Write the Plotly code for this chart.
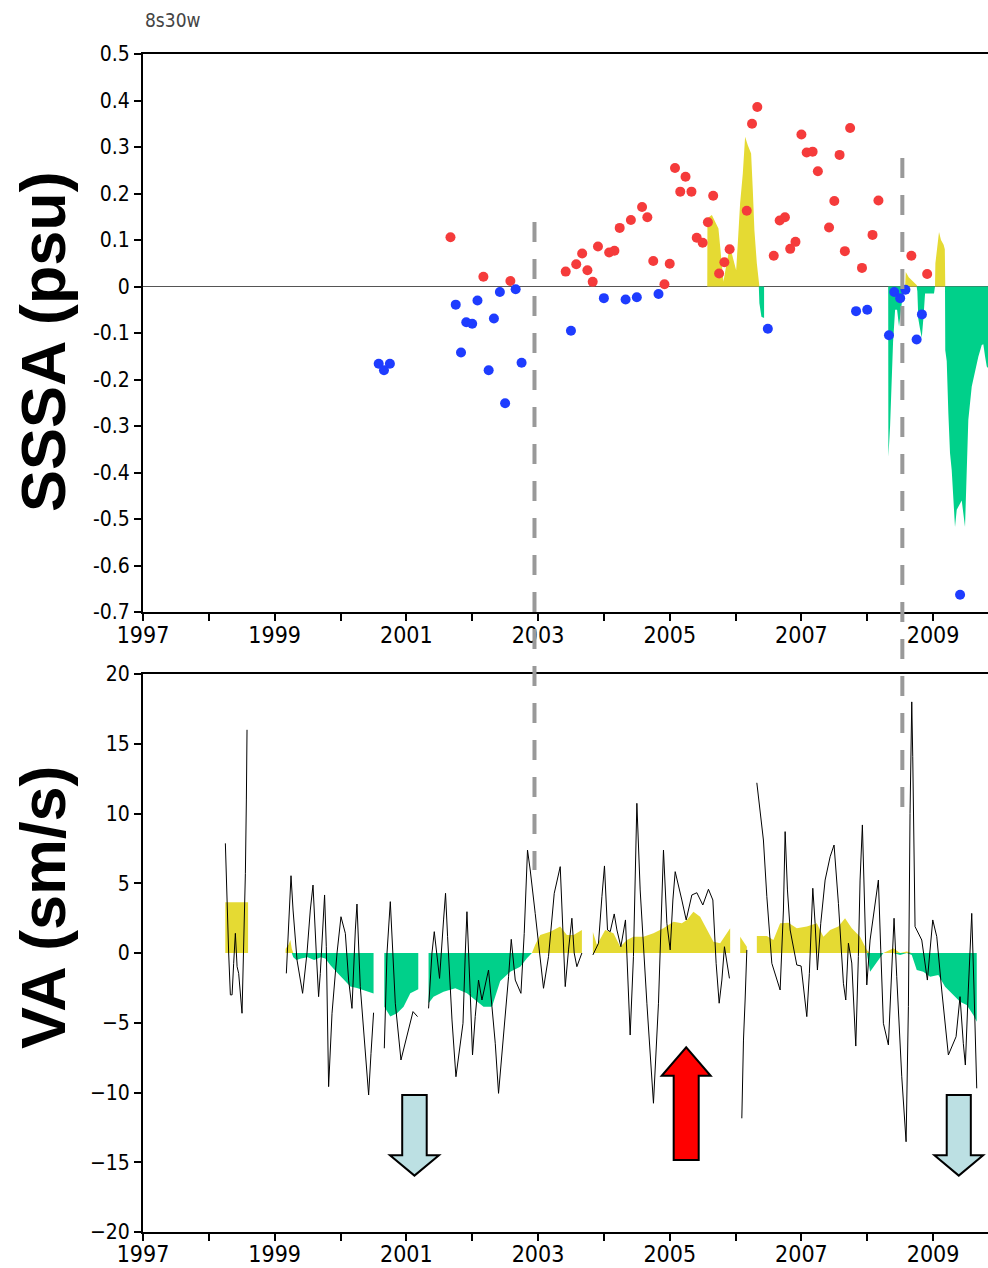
import plotly.graph_objects as go

# ---------------- data ----------------
# Top panel: SSS anomaly points (psu)
sss_year = [2000.58, 2000.66, 2000.75, 2001.67, 2001.75, 2001.83, 2001.91, 2002.00, 2002.08, 2002.17,
            2002.25, 2002.33, 2002.42, 2002.50, 2002.58, 2002.66, 2002.75, 2003.42, 2003.50, 2003.58,
            2003.67, 2003.75, 2003.83, 2003.91, 2004.00, 2004.08, 2004.16, 2004.24, 2004.33, 2004.41,
            2004.50, 2004.58, 2004.66, 2004.75, 2004.83, 2004.92, 2005.00, 2005.08, 2005.16, 2005.24,
            2005.33, 2005.41, 2005.50, 2005.58, 2005.66, 2005.75, 2005.83, 2005.91, 2006.17, 2006.25,
            2006.33, 2006.49, 2006.58, 2006.67, 2006.75, 2006.83, 2006.91, 2007.00, 2007.08, 2007.17,
            2007.25, 2007.42, 2007.50, 2007.58, 2007.66, 2007.74, 2007.83, 2007.92, 2008.00, 2008.08,
            2008.17, 2008.33, 2008.41, 2008.50, 2008.58, 2008.67, 2008.75, 2008.83, 2008.91, 2009.41]
sss_val = [-0.166, -0.180, -0.166, 0.106, -0.039, -0.142, -0.077, -0.080, -0.030, 0.021,
           -0.180, -0.069, -0.012, -0.251, 0.012, -0.006, -0.164, 0.032, -0.095, 0.048,
           0.071, 0.035, 0.010, 0.086, -0.025, 0.073, 0.077, 0.126, -0.028, 0.143,
           -0.023, 0.171, 0.149, 0.055, -0.016, 0.005, 0.049, 0.255, 0.204, 0.236,
           0.204, 0.105, 0.094, 0.138, 0.195, 0.028, 0.052, 0.080, 0.163, 0.350,
           0.386, -0.091, 0.066, 0.142, 0.149, 0.081, 0.096, 0.327, 0.288, 0.290,
           0.248, 0.127, 0.184, 0.283, 0.076, 0.341, -0.053, 0.040, -0.050, 0.111,
           0.185, -0.105, -0.012, -0.025, -0.007, 0.066, -0.114, -0.060, 0.027, -0.663]

# Top panel: shaded SSS anomaly series (psu); None = gap
ssa_year = [2005.570, 2005.573, 2005.640, 2005.690, 2005.740, 2005.766, 2005.792, 2005.816, 2005.842,
            2005.892, 2005.943, 2005.978, 2006.009, 2006.034, 2006.069, 2006.110, 2006.145, 2006.186,
            2006.236, 2006.262, 2006.286, 2006.323, 2006.353, 2006.362, 2006.393, 2006.423, 2006.433,
            2006.434,
            2008.318, 2008.321, 2008.347, 2008.370, 2008.392, 2008.423, 2008.453, 2008.483, 2008.529,
            2008.575, 2008.585, 2008.630, 2008.750, 2008.761, 2008.776, 2008.800, 2008.828, 2008.852,
            2008.878, 2008.923, 2009.014, 2009.029, 2009.035, 2009.070, 2009.090, 2009.120, 2009.160,
            2009.178, 2009.181, 2009.185, 2009.207, 2009.232, 2009.257, 2009.283, 2009.308, 2009.333,
            2009.359, 2009.394, 2009.435, 2009.485, 2009.511, 2009.535, 2009.587, 2009.637, 2009.687,
            2009.739, 2009.763, 2009.789, 2009.815, 2009.834]
ssa_val = [0.0, 0.147, 0.154, 0.139, 0.125, 0.086, 0.046, 0.010, 0.032,
           0.071, 0.071, 0.050, 0.035, 0.093, 0.179, 0.243, 0.322, 0.304,
           0.286, 0.207, 0.121, 0.050, 0.003, -0.036, -0.065, -0.067, -0.067,
           None,
           0.0, -0.366, -0.300, -0.200, -0.120, -0.050, -0.050, -0.086, -0.030,
           0.0, 0.031, 0.020, 0.003, -0.010, -0.070, -0.090, -0.110, -0.070,
           -0.015, -0.015, -0.015, 0.0, 0.050, 0.090, 0.117, 0.100, 0.090,
           0.080, 0.0, -0.137, -0.160, -0.273, -0.358, -0.395, -0.459, -0.517,
           -0.480, -0.470, -0.460, -0.517, -0.388, -0.287, -0.215, -0.180, -0.151,
           -0.126, -0.124, -0.150, -0.172, -0.175]

# Bottom panel: smoothed VA (sm/s); None = gap
vas_year = [1998.25, 1998.251, 1998.596, 1998.597,
            1999.166, 1999.21, 1999.238, 1999.26, 1999.283, 1999.33, 1999.40, 1999.50, 1999.60, 1999.70,
            1999.769, 1999.85, 1999.947, 2000.05, 2000.149, 2000.25, 2000.351, 2000.45, 2000.502, 2000.503,
            2000.665, 2000.756, 2000.858, 2000.958, 2001.06, 2001.181, 2001.182,
            2001.337, 2001.413, 2001.565, 2001.743, 2001.92, 2002.072, 2002.172, 2002.30, 2002.426,
            2002.578, 2002.73, 2002.831, 2002.907, 2002.957, 2003.033, 2003.185, 2003.337, 2003.438,
            2003.539, 2003.666, 2003.667,
            2003.833, 2003.894, 2004.02, 2004.146, 2004.248, 2004.35, 2004.45, 2004.601, 2004.753,
            2004.905, 2005.057, 2005.184, 2005.26, 2005.36, 2005.462, 2005.564, 2005.664, 2005.766,
            2005.918, 2005.919,
            2006.07, 2006.171, 2006.172,
            2006.323, 2006.475, 2006.575, 2006.677, 2006.803, 2006.93, 2007.082, 2007.234, 2007.334,
            2007.436, 2007.562, 2007.663, 2007.765, 2007.891, 2007.993, 2008.043, 2008.145, 2008.245,
            2008.397, 2008.499, 2008.60, 2008.676, 2008.752, 2008.852, 2008.954, 2009.08, 2009.182,
            2009.308, 2009.41, 2009.511, 2009.611, 2009.663]
vas_val = [3.63, 3.63, 3.63, None,
           0.3, 0.6, 0.93, 0.3, -0.3, -0.5, -0.4, -0.3, -0.5, -0.3,
           -0.4, -0.9, -1.4, -1.9, -2.4, -2.5, -2.65, -2.8, -2.9, None,
           -3.85, -4.56, -4.32, -3.85, -2.89, -2.6, None,
           -3.6, -3.13, -2.77, -2.53, -2.89, -3.49, -3.85, -3.85, -2.0,
           -1.34, -0.98, -0.38, 0.0, 0.6, 1.29, 1.53, 1.9, 1.29,
           1.29, 1.65, None,
           1.5, 0.57, 1.65, 1.41, 0.45, 0.93, 1.17, 1.17, 1.41,
           1.77, 2.24, 2.13, 2.37, 2.96, 2.6, 1.65, 0.81, 0.7,
           1.77, None,
           1.17, 0.45, None,
           1.22, 1.22, 0.93, 2.13, 2.17, 1.77, 1.9, 2.13, 1.17,
           1.65, 1.9, 2.49, 1.77, 1.17, 0.22, -1.34, -0.62, 0.0,
           0.34, -0.14, 0.1, -0.14, -1.22, -1.34, -1.7, -1.58, -2.42,
           -3.0, -3.5, -3.73, -4.44, -4.92]

# Bottom panel: raw VA (sm/s); None = gap
va_year = [1998.251, 1998.266, 1998.301, 1998.327, 1998.353, 1998.377, 1998.403, 1998.429, 1998.453,
           1998.504, 1998.529, 1998.555, 1998.570, 1998.580, 1998.581,
           1999.177, 1999.212, 1999.248, 1999.279, 1999.339, 1999.424, 1999.491, 1999.541, 1999.582,
           1999.632, 1999.667, 1999.693, 1999.758, 1999.784, 1999.819, 1999.871, 1999.947, 2000.007,
           2000.073, 2000.123, 2000.174, 2000.225, 2000.250, 2000.300, 2000.361, 2000.427, 2000.463,
           2000.502, 2000.503,
           2000.665, 2000.706, 2000.756, 2000.782, 2000.832, 2000.918, 2001.009, 2001.101, 2001.170,
           2001.171,
           2001.337, 2001.389, 2001.424, 2001.465, 2001.504, 2001.565, 2001.595, 2001.626, 2001.693,
           2001.753, 2001.819, 2001.860, 2001.895, 2001.920, 2001.970, 2002.005, 2002.046, 2002.096,
           2002.148, 2002.198, 2002.248, 2002.300, 2002.350, 2002.400, 2002.502, 2002.552, 2002.593,
           2002.654, 2002.740, 2002.790, 2002.840, 2002.881, 2002.957, 2003.022, 2003.083, 2003.159,
           2003.246, 2003.337, 2003.378, 2003.413, 2003.463, 2003.514, 2003.549, 2003.590, 2003.666,
           2003.667,
           2003.833, 2003.918, 2003.970, 2004.009, 2004.055, 2004.096, 2004.157, 2004.198, 2004.258,
           2004.328, 2004.399, 2004.449, 2004.501, 2004.551, 2004.653, 2004.753, 2004.829, 2004.905,
           2004.957, 2005.007, 2005.048, 2005.083, 2005.184, 2005.250, 2005.336, 2005.412, 2005.503,
           2005.588, 2005.655, 2005.705, 2005.751, 2005.792, 2005.831, 2005.868, 2005.907, 2005.908,
           2006.095, 2006.120, 2006.145, 2006.171, 2006.172,
           2006.323, 2006.423, 2006.475, 2006.551, 2006.677, 2006.727, 2006.753, 2006.788, 2006.829,
           2006.930, 2006.995, 2007.082, 2007.121, 2007.173, 2007.208, 2007.243, 2007.294, 2007.360,
           2007.436, 2007.496, 2007.562, 2007.638, 2007.674, 2007.714, 2007.765, 2007.826, 2007.865,
           2007.891, 2007.926, 2007.956, 2007.993, 2008.043, 2008.093, 2008.169, 2008.205, 2008.245,
           2008.321, 2008.407, 2008.448, 2008.524, 2008.590, 2008.625, 2008.650, 2008.676, 2008.691,
           2008.726, 2008.828, 2008.913, 2008.995, 2009.056, 2009.131, 2009.232, 2009.349, 2009.409,
           2009.459, 2009.490, 2009.535, 2009.587, 2009.622, 2009.663]
va_val = [7.86, 5.11, 0.0, -3.0, -3.0, -0.74, 1.41, -0.98, -1.46,
          -4.32, 0.22, 5.71, 10.97, 16.0, None,
          -1.46, 1.89, 5.54, 3.08, -0.5, -2.89, 0.0, 3.08, 4.87,
          0.0, -3.13, -1.46, 4.16, 0.45, -9.58, -4.32, 0.0, 2.6,
          1.41, -1.94, -3.97, 1.65, 3.51, -2.41, -6.0, -10.18, -7.19,
          -4.28, None,
          -6.83, 0.0, 3.68, 1.17, -3.6, -7.67, -6.0, -4.2, -4.56,
          None,
          -3.97, 0.0, 1.53, 0.0, -1.82, 2.37, 4.28, 1.17, -4.8,
          -8.87, -6.72, -5.04, 0.0, 2.96, -2.89, -7.31, -4.56, -1.94,
          -3.37, -2.4, -1.22, -3.85, -6.47, -10.06, -4.56, -1.7, 0.98,
          -1.94, -2.89, 1.41, 7.38, 5.95, 2.84, 0.22, -2.53, -0.26,
          4.28, 6.19, 2.13, -2.41, 0.22, 2.49, 0.0, -0.98, 0.0,
          None,
          -0.14, 0.7, 4.04, 6.24, 1.65, 1.53, 2.8, 1.65, 0.45,
          2.37, -5.88, -0.26, 10.73, 4.52, -3.6, -10.77, -3.6, 7.38,
          2.13, 0.22, 3.8, 5.83, 3.8, 2.37, 4.16, 4.32, 3.44,
          4.57, 3.8, -0.74, -3.6, -1.94, 0.45, -0.74, -1.82, None,
          -11.85, -6.24, -3.37, 0.22, None,
          12.2, 8.1, 4.04, -0.74, -2.65, 3.08, 8.7, 4.52, 1.65,
          -0.86, -0.93, -4.56, -1.46, 4.64, 2.13, -1.22, 2.13, 5.23,
          6.9, 7.74, 3.56, -2.17, -3.37, 0.7, -0.72, -6.67, -0.26,
          5.23, 9.18, 3.08, -2.29, 0.93, 2.6, 5.23, 0.22, -5.04,
          -6.59, 2.49, -1.7, -8.87, -13.53, -3.85, 10.0, 18.0, 14.07,
          1.89, 0.93, -1.94, 2.37, 1.17, -2.65, -7.31, -6.0, -3.13,
          -6.47, -8.03, -2.65, 2.84, -2.65, -9.7]

# Axis ticks
year_ticks = list(range(1997, 2010))
year_labels = [str(y) if y % 2 == 1 else "" for y in year_ticks]
sss_ticks = [0.5, 0.4, 0.3, 0.2, 0.1, 0.0, -0.1, -0.2, -0.3, -0.4, -0.5, -0.6, -0.7]
sss_labels = ["0.5", "0.4", "0.3", "0.2", "0.1", "0", "-0.1", "-0.2", "-0.3", "-0.4", "-0.5", "-0.6", "-0.7"]
va_ticks = [20, 15, 10, 5, 0, -5, -10, -15, -20]
va_labels = ["20", "15", "10", "5", "0", "\u22125", "\u221210", "\u221215", "\u221220"]

# Event markers (vertical dashed lines) in years
event_years = [2002.946, 2008.533]

# ---------------- styling / geometry ----------------
YELLOW = "#E5DA33"
GREEN = "#00D08A"
RED_PT = "#F53B3B"
BLUE_PT = "#1E3CFF"
TICKFONT = "DejaVu Sans Condensed, Liberation Sans Narrow, sans-serif"

# page body margin is removed in the written page, so the figure fills the window
W, H = 988, 1268
ML, MR, MT, MB = 143, 0, 54, 36
plot_h = H - MT - MB
plot_w = W - ML - MR


def py2paper(py):
    return (H - MB - py) / plot_h


def px2paper(px):
    return (px - ML) / plot_w


top_dom = [py2paper(612), py2paper(54)]
bot_dom = [py2paper(1232), py2paper(674)]
xmax = 2009.834

fig = go.Figure()


def segments(xs, ys):
    seg_x, seg_y, out = [], [], []
    for x, y in zip(xs, ys):
        if y is None:
            if seg_x:
                out.append((seg_x, seg_y))
            seg_x, seg_y = [], []
        else:
            seg_x.append(x)
            seg_y.append(y)
    if seg_x:
        out.append((seg_x, seg_y))
    return out


def add_shaded(xs, ys, xa, ya):
    for sx, sy in segments(xs, ys):
        for col, fn in ((YELLOW, lambda v: max(v, 0.0)), (GREEN, lambda v: min(v, 0.0))):
            fig.add_trace(go.Scatter(x=sx, y=[fn(v) for v in sy], mode="lines",
                                     line=dict(width=0, color=col), fill="tozeroy", fillcolor=col,
                                     xaxis=xa, yaxis=ya, hoverinfo="skip", showlegend=False))


# top shaded series
add_shaded(ssa_year, ssa_val, "x", "y")
# top points
pt_colors = [RED_PT if v >= 0 else BLUE_PT for v in sss_val]
fig.add_trace(go.Scatter(x=sss_year, y=sss_val, mode="markers",
                         marker=dict(size=10, color=pt_colors, line=dict(width=0)),
                         xaxis="x", yaxis="y", showlegend=False))

# bottom shaded series
add_shaded(vas_year, vas_val, "x2", "y2")
# bottom raw line
fig.add_trace(go.Scatter(x=va_year, y=va_val, mode="lines", line=dict(width=1, color="black"),
                         connectgaps=False, xaxis="x2", yaxis="y2", showlegend=False))

# dashed event lines spanning both panels
event_tops = [py2paper(222), py2paper(158)]
event_bots = [py2paper(870), py2paper(807)]
shapes = []
for ex, yt, yb in zip(event_years, event_tops, event_bots):
    shapes.append(dict(type="line", xref="x", yref="paper", x0=ex, x1=ex, y0=yt, y1=yb,
                       line=dict(color="#999999", width=4, dash="20px,17px"), layer="above"))


# block arrows in bottom panel (data coords)
def arrow_path(cx, shaft_hw, head_hw, y_tail, y_base, y_tip):
    pts = [(cx - shaft_hw, y_tail), (cx + shaft_hw, y_tail), (cx + shaft_hw, y_base),
           (cx + head_hw, y_base), (cx, y_tip), (cx - head_hw, y_base), (cx - shaft_hw, y_base)]
    return "M " + " L ".join(f"{x},{y}" for x, y in pts) + " Z"


arrows = [
    dict(cx=2001.123, shaft_hw=0.186, head_hw=0.372, y_tail=-10.18, y_base=-14.5, y_tip=-15.96, color="#BCE0E3"),
    dict(cx=2005.25, shaft_hw=0.19, head_hw=0.372, y_tail=-14.84, y_base=-8.8, y_tip=-6.76, color="#FF0000"),
    dict(cx=2009.39, shaft_hw=0.183, head_hw=0.37, y_tail=-10.18, y_base=-14.5, y_tip=-15.96, color="#BCE0E3"),
]
for a in arrows:
    shapes.append(dict(type="path", xref="x2", yref="y2",
                       path=arrow_path(a["cx"], a["shaft_hw"], a["head_hw"], a["y_tail"], a["y_base"], a["y_tip"]),
                       fillcolor=a["color"], line=dict(color="black", width=2), layer="above"))

axis_common = dict(showgrid=False, showline=True, linecolor="black", linewidth=2, automargin=False,
                   ticks="outside", ticklen=7, tickwidth=2, tickcolor="black")

fig.update_layout(
    width=W, height=H,
    margin=dict(l=ML, r=MR, t=MT, b=MB, autoexpand=False),
    paper_bgcolor="white", plot_bgcolor="white",
    showlegend=False,
    xaxis=dict(domain=[0, 1], range=[1997, xmax], anchor="y", tickvals=year_ticks, ticktext=year_labels,
               mirror=True, zeroline=False, ticklabelstandoff=-6,
               tickfont=dict(family=TICKFONT, size=23, color="black"), **axis_common),
    yaxis=dict(domain=top_dom, range=[-0.7, 0.5], anchor="x", tickvals=sss_ticks, ticktext=sss_labels,
               zeroline=True, zerolinecolor="#555555", zerolinewidth=1.5,
               tickfont=dict(family=TICKFONT, size=21, color="black"), **axis_common),
    xaxis2=dict(domain=[0, 1], range=[1997, xmax], anchor="y2", tickvals=year_ticks, ticktext=year_labels,
                mirror=True, zeroline=False, ticklabelstandoff=-7,
                tickfont=dict(family=TICKFONT, size=23, color="black"), **axis_common),
    yaxis2=dict(domain=bot_dom, range=[-20, 20], anchor="x2", tickvals=va_ticks, ticktext=va_labels,
                zeroline=False, tickfont=dict(family=TICKFONT, size=21, color="black"), **axis_common),
    shapes=shapes,
    annotations=[
        dict(text="8s30w", xref="paper", yref="paper", x=px2paper(143), y=py2paper(20),
             xanchor="left", yanchor="middle", showarrow=False,
             font=dict(family=TICKFONT, size=19, color="#444444")),
        dict(text="<b>SSSA (psu)</b>", xref="paper", yref="paper", x=px2paper(43),
             y=py2paper(342), xanchor="center", yanchor="middle", textangle=-90, showarrow=False,
             font=dict(family="Liberation Sans, Arial, sans-serif", size=63, color="black")),
        dict(text="<b>VA (sm/s)</b>", xref="paper", yref="paper", x=px2paper(43),
             y=py2paper(907), xanchor="center", yanchor="middle", textangle=-90, showarrow=False,
             font=dict(family="Liberation Sans, Arial, sans-serif", size=63, color="black")),
    ],
)

# remove the default page margin and scrollbars so the figure fills the window exactly
fig.write_html("out.html",
               config={"displayModeBar": False, "staticPlot": True},
               post_script="document.documentElement.style.overflow='hidden';"
                           "document.body.style.margin='0px';"
                           "document.body.style.overflow='hidden';")
